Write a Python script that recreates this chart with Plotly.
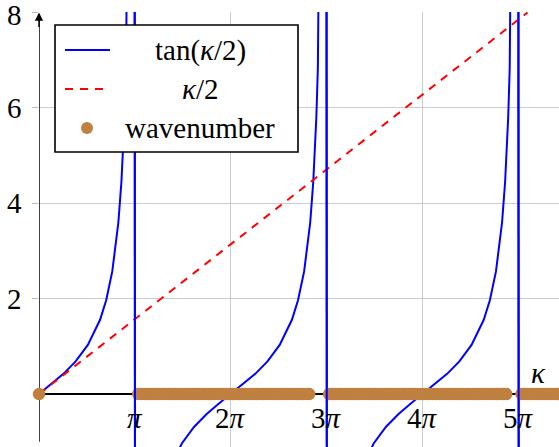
import plotly.graph_objects as go

PI = 3.14159

# tan(kappa/2), sampled along kappa (the curve jumps at pi, 3pi, 5pi)
tan_kappa = [
    0.0, 0.4, 0.8, 1.2, 1.6, 2.0, 2.2, 2.4, 2.6, 2.7, 2.8, 2.85, 2.9, 2.95, 3.0, 3.05, 3.1,
    3.183, 3.233, 3.283, 3.383, 3.483, 3.683, 3.883, 4.283, 4.683, 5.083, 5.483, 5.883,
    6.283, 6.683, 7.083, 7.483, 7.883, 8.283, 8.483, 8.683, 8.883, 8.983, 9.083, 9.133, 9.183,
    9.233, 9.283, 9.333, 9.383,
    9.466, 9.516, 9.566, 9.666, 9.766, 9.966, 10.166, 10.566, 10.966, 11.366, 11.766,
    12.166, 12.566, 12.966, 13.366, 13.766, 14.166, 14.566, 14.766, 14.966, 15.166,
    15.266, 15.366, 15.416, 15.466, 15.516, 15.566, 15.616, 15.666,
    15.750, 15.850, 16.050, 16.450, 16.850, 17.050,
]
tan_vals = [
    0.0, 0.203, 0.423, 0.684, 1.030, 1.557, 1.965, 2.572, 3.602, 4.455, 5.798, 6.836, 8.238, 10.41, 14.10, 21.82, 48.08,
    -48.08, -21.82, -14.10, -8.238, -5.798, -3.602, -2.572, -1.557, -1.030, -0.684, -0.423, -0.203,
    0.0, 0.203, 0.423, 0.684, 1.030, 1.557, 1.965, 2.572, 3.602, 4.455, 5.798, 6.836, 8.238,
    10.41, 14.10, 21.82, 48.08,
    -48.08, -21.82, -14.10, -8.238, -5.798, -3.602, -2.572, -1.557, -1.030, -0.684, -0.423,
    -0.203, 0.0, 0.203, 0.423, 0.684, 1.030, 1.557, 1.965, 2.572, 3.602,
    4.455, 5.798, 6.836, 8.238, 10.41, 14.10, 21.82, 48.08,
    -48.08, -14.10, -5.798, -2.572, -1.557, -1.260,
]

# kappa/2
half_kappa = [0.0, 16.0]
half_vals = [0.0, 8.0]

# wavenumber dots on the kappa axis
wavenumber_k = [
    0.0,
    3.25, 3.35, 3.45, 3.55, 3.65, 3.75, 3.85, 3.95, 4.05, 4.15,
    4.25, 4.35, 4.45, 4.55, 4.65, 4.75, 4.85, 4.95, 5.05, 5.15,
    5.25, 5.35, 5.45, 5.55, 5.65, 5.75, 5.85, 5.95, 6.05, 6.15,
    6.25, 6.35, 6.45, 6.55, 6.65, 6.75, 6.85, 6.95, 7.05, 7.15,
    7.25, 7.35, 7.45, 7.55, 7.65, 7.75, 7.85, 7.95, 8.05, 8.15,
    8.25, 8.35, 8.45, 8.55, 8.65, 8.75, 8.85,
    9.5, 9.6, 9.7, 9.8, 9.9,
    10.0, 10.1, 10.2, 10.3, 10.4, 10.5, 10.6, 10.7, 10.8, 10.9,
    11.0, 11.1, 11.2, 11.3, 11.4, 11.5, 11.6, 11.7, 11.8, 11.9,
    12.0, 12.1, 12.2, 12.3, 12.4, 12.5, 12.6, 12.7, 12.8, 12.9,
    13.0, 13.1, 13.2, 13.3, 13.4, 13.5, 13.6, 13.7, 13.8, 13.9,
    14.0, 14.1, 14.2, 14.3, 14.4, 14.5, 14.6, 14.7, 14.8, 14.9,
    15.0, 15.1, 15.2, 15.3,
    15.8, 15.9, 16.0, 16.1, 16.2, 16.3, 16.4, 16.5, 16.6, 16.7, 16.8, 16.9, 17.0,
]
wavenumber_y = [0.0] * len(wavenumber_k)

x_ticks = [PI, 2 * PI, 3 * PI, 4 * PI, 5 * PI]
x_ticktext = ["<i>π</i>", "2<i>π</i>", "3<i>π</i>", "4<i>π</i>", "5<i>π</i>"]
y_ticks = [2, 4, 6, 8]
y_ticktext = ["2", "4", "6", "8"]

FONT = "Liberation Serif"
FS = 29
BLUE = "#0000ff"
RED = "#ff0000"
BROWN = "#bf8040"


# pixel -> paper helpers (plot area: left 39, top 12, 520 x 435)
def px(x):
    return (x - 39) / 520


def py(y):
    return (447 - y) / 435


def label(x, y, text, xref="paper", yref="paper", xanchor="center", **kw):
    return dict(x=x, y=y, xref=xref, yref=yref, text=text, showarrow=False,
                xanchor=xanchor, yanchor="middle",
                font=dict(family=FONT, size=FS, color="black"), **kw)


# vertical jump segments of the tan curve, drawn over the dots
jump_x, jump_y = [], []
for i in range(len(tan_vals) - 1):
    if tan_vals[i] > 8 and tan_vals[i + 1] < -8:
        jump_x += [tan_kappa[i], tan_kappa[i + 1], None]
        jump_y += [tan_vals[i], tan_vals[i + 1], None]

fig = go.Figure()
fig.add_trace(go.Scatter(x=tan_kappa, y=tan_vals, mode="lines",
                         line=dict(color=BLUE, width=2)))
fig.add_trace(go.Scatter(x=half_kappa, y=half_vals, mode="lines",
                         line=dict(color=RED, width=2, dash="8px,7px")))
fig.add_trace(go.Scatter(x=wavenumber_k, y=wavenumber_y, mode="markers",
                         marker=dict(color=BROWN, size=12.5, line=dict(width=0)),
                         cliponaxis=False))
fig.add_trace(go.Scatter(x=jump_x, y=jump_y, mode="lines",
                         line=dict(color=BLUE, width=2)))

shapes = [
    # y axis
    dict(type="line", xref="x", yref="y", x0=0, x1=0, y0=-1.0, y1=7.9,
         line=dict(color="black", width=1.5), layer="between"),
    # legend box
    dict(type="rect", xref="paper", yref="paper", x0=px(55), x1=px(298),
         y0=py(152), y1=py(25), line=dict(color="black", width=1.6),
         fillcolor="white", layer="above"),
    dict(type="line", xref="paper", yref="paper", x0=px(65), x1=px(110),
         y0=py(50), y1=py(50), line=dict(color=BLUE, width=2), layer="above"),
    dict(type="line", xref="paper", yref="paper", x0=px(65), x1=px(106),
         y0=py(89), y1=py(89), line=dict(color=RED, width=2, dash="8px,7px"),
         layer="above"),
    dict(type="circle", xref="paper", yref="paper", x0=px(81), x1=px(93),
         y0=py(134), y1=py(122), line=dict(width=0), fillcolor=BROWN,
         layer="above"),
]

annotations = [
    dict(x=0, y=8.0, xref="x", yref="y", ax=0, ay=16, text="", showarrow=True,
         arrowhead=2, arrowsize=1.1, arrowwidth=1.5, arrowcolor="black"),
    label(px(200), py(50), "tan(<i>κ</i>/2)"),
    label(px(200), py(89), "<i>κ</i>/2"),
    label(px(200), py(128), "wavenumber"),
    label(16.35, 0.45, "<i>κ</i>", xref="x", yref="y"),
]
for xv, tt in zip(x_ticks, x_ticktext):
    annotations.append(label(xv, 0, tt, xref="x", yref="y", yshift=-24))
for yv, tt in zip(y_ticks, y_ticktext):
    annotations.append(label(0, yv, tt, xref="x", yref="y", xanchor="right",
                             xshift=-15, yshift=-3 if yv == 8 else 0))

fig.update_layout(
    width=559, height=447,
    margin=dict(l=39, r=0, t=12, b=0),
    plot_bgcolor="white", paper_bgcolor="white",
    showlegend=False,
    shapes=shapes,
    annotations=annotations,
    font=dict(family=FONT, size=FS, color="black"),
    xaxis=dict(range=[0, 17.03], tickvals=x_ticks, showticklabels=False,
               showgrid=True, gridcolor="#cccccc", gridwidth=1,
               zeroline=False, showline=False, ticks="", automargin=False),
    yaxis=dict(range=[-1.11, 8.01], tickvals=y_ticks, showticklabels=False,
               showgrid=True, gridcolor="#cccccc", gridwidth=1,
               zeroline=True, zerolinecolor="black", zerolinewidth=1.5,
               showline=False, ticks="outside", ticklen=6, tickcolor="#bbbbbb",
               automargin=False),
)

fig.write_html("out.html", config={"displayModeBar": False},
               post_script="document.body.style.margin='0';")
